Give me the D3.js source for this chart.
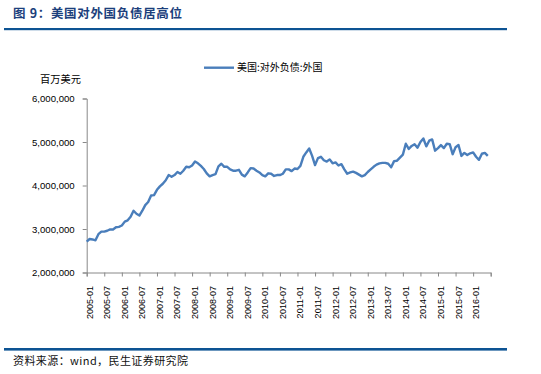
<!DOCTYPE html>
<html>
<head>
<meta charset="utf-8">
<script src="https://cdn.jsdelivr.net/npm/d3@7"></script>
<style>
  html, body { margin: 0; padding: 0; background: #fff; }
  svg { display: block; }
</style>
</head>
<body>
<svg id="chart" width="541" height="374"></svg>
<script>
// ---- data ----
const titleText = "图 9：美国对外国负债居高位";
const sourceText = "资料来源：wind，民生证券研究院";
const unitLabel = "百万美元";
const seriesName = "美国:对外负债:外国";
const startYear = 2005;           // first month 2005-01
const axisMonths = 138;           // axis spans 2005-01 .. 2016-07
const yTicks = [2000000, 3000000, 4000000, 5000000, 6000000];
const xTickLabels = ["2005-01","2005-07","2006-01","2006-07","2007-01","2007-07","2008-01","2008-07",
  "2009-01","2009-07","2010-01","2010-07","2011-01","2011-07","2012-01","2012-07","2013-01","2013-07",
  "2014-01","2014-07","2015-01","2015-07","2016-01"];
// monthly values, 百万美元, 2005-01 onward
const values = [
  2710000,2770000,2760000,2740000,2880000,2940000,2940000,2960000,2990000,2990000,
  3040000,3050000,3080000,3170000,3200000,3280000,3420000,3350000,3310000,3420000,
  3550000,3620000,3770000,3780000,3900000,3980000,4040000,4120000,4240000,4200000,
  4240000,4310000,4270000,4340000,4430000,4420000,4460000,4550000,4510000,4450000,
  4380000,4280000,4210000,4240000,4260000,4440000,4500000,4430000,4430000,4370000,
  4340000,4340000,4360000,4250000,4210000,4300000,4400000,4390000,4340000,4300000,
  4240000,4210000,4280000,4270000,4220000,4240000,4240000,4270000,4370000,4370000,
  4330000,4390000,4380000,4450000,4660000,4760000,4850000,4680000,4470000,4630000,
  4660000,4580000,4550000,4600000,4510000,4530000,4460000,4490000,4370000,4270000,
  4300000,4320000,4290000,4250000,4210000,4240000,4310000,4370000,4430000,4480000,
  4510000,4520000,4520000,4500000,4420000,4560000,4570000,4640000,4710000,4960000,
  4840000,4910000,4950000,4870000,5000000,5080000,4900000,5030000,5060000,4800000,
  4860000,4930000,4860000,4960000,4950000,4720000,4880000,4930000,4680000,4750000,
  4700000,4740000,4760000,4660000,4590000,4730000,4750000,4680000
];

// ---- drawing ----
const svg = d3.select("#chart");
const cjk = "'Noto Sans CJK SC', 'Noto Sans', sans-serif";
const lat = "'Liberation Sans', Arial, sans-serif";
const ruleColor = "#0d5393";

// title
svg.append("text")
  .attr("x", 13).attr("y", 18)
  .attr("font-family", cjk).attr("font-weight", "bold").attr("font-size", 12.5)
  .attr("fill", "#1c3f7c")
  .attr("textLength", 169).attr("lengthAdjust", "spacing")
  .text(titleText);
svg.append("rect").attr("x", 4).attr("y", 28).attr("width", 503).attr("height", 2.2).attr("fill", ruleColor);
svg.append("rect").attr("x", 4).attr("y", 348).attr("width", 503).attr("height", 2.6).attr("fill", ruleColor);
svg.append("text")
  .attr("x", 13).attr("y", 365)
  .attr("font-family", cjk).attr("font-size", 11)
  .attr("fill", "#111")
  .attr("textLength", 175).attr("lengthAdjust", "spacing")
  .text(sourceText);

// scales
const x = d3.scaleLinear().domain([0, axisMonths]).range([86.7, 490.7]);
const y = d3.scaleLinear().domain([2000000, 6000000]).range([272.5, 98.5]);

// y axis
const yAxis = d3.axisLeft(y).tickValues(yTicks).tickSize(4).tickPadding(8).tickFormat(d3.format(","));
const gy = svg.append("g").attr("transform", "translate(86.7,0)").call(yAxis);
gy.select(".domain").attr("stroke", "#888");
gy.selectAll(".tick line").attr("stroke", "#888");
gy.selectAll(".tick text").attr("font-family", lat).attr("font-size", 9.6).attr("fill", "#000");

// x axis
const tickIdx = d3.range(0, axisMonths + 1, 6);
const xAxis = d3.axisBottom(x).tickValues(tickIdx).tickSize(4).tickFormat("");
const gx = svg.append("g").attr("transform", "translate(0,272.5)").call(xAxis);
gx.select(".domain").attr("stroke", "#888");
gx.selectAll(".tick line").attr("stroke", "#888");
svg.append("g").selectAll("text")
  .data(xTickLabels)
  .join("text")
  .attr("transform", (d, i) => `translate(${x(i * 6) + 2.8},286) rotate(-90)`)
  .attr("text-anchor", "end")
  .attr("dy", "0.35em")
  .attr("font-family", lat).attr("font-size", 9)
  .attr("fill", "#000")
  .text(d => d);

// unit label
svg.append("text")
  .attr("x", 40).attr("y", 83)
  .attr("font-family", cjk).attr("font-size", 10.2)
  .attr("fill", "#000")
  .attr("textLength", 41).attr("lengthAdjust", "spacing")
  .text(unitLabel);

// line
const line = d3.line().x((d, i) => x(i)).y(d => y(d));
svg.append("path")
  .datum(values)
  .attr("fill", "none")
  .attr("stroke", "#4a7ebb")
  .attr("stroke-width", 2.4)
  .attr("stroke-linejoin", "round")
  .attr("d", line);

// legend
svg.append("line").attr("x1", 204).attr("x2", 234).attr("y1", 67.7).attr("y2", 67.7)
  .attr("stroke", "#4a7ebb").attr("stroke-width", 2.4);
svg.append("text")
  .attr("x", 237).attr("y", 71.3)
  .attr("font-family", cjk).attr("font-size", 10)
  .attr("fill", "#000")
  .text(seriesName);
</script>
</body>
</html>
